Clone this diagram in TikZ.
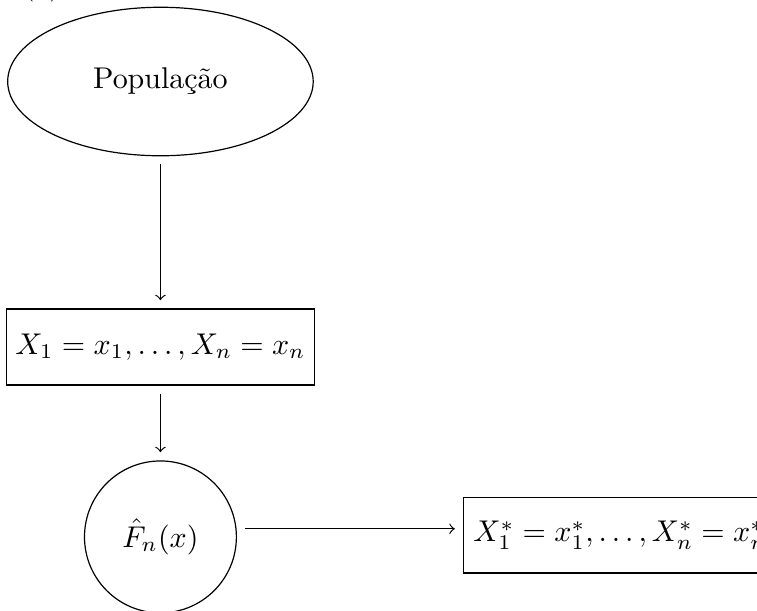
\documentclass[tikz,border=0pt]{standalone}
\usepackage{amsmath, amssymb}
\usepackage{tikz}
\usetikzlibrary{positioning,shapes.geometric}
\tikzset{
  flowarrow/.style={->, shorten <=2.7pt, shorten >=2.7pt},
  popnode/.style={draw, ellipse, minimum width=3.58cm, minimum height=1.74cm, align=center},
  samplebox/.style={draw, minimum width=3.57cm, minimum height=0.89cm, inner sep=3pt, align=center},
  ecdfnode/.style={draw, circle, minimum size=1.78cm},
  bootbox/.style={draw, minimum height=0.88cm, inner sep=3.3pt, align=center}
}

\begin{document}
\begin{tikzpicture}
  \useasboundingbox (0,0) rectangle (8.87,-7.15);
  \node[anchor=base west, inner sep=0pt] (lbl) at (0.26,0.065) {(a)};
  \node[popnode] (pop) at (1.88,-0.955) {População};
  \node[samplebox] (amostra) at (1.88,-4.065) {$X_1 = x_1, \ldots, X_n = x_n$};
  \node[ecdfnode] (fn) at (1.88,-6.291) {$\hat{F}_n(x)$};
  \node[bootbox, anchor=west] (boot) at (5.424,-6.273) {$X_1^* = x_1^*, \ldots, X_n^* = x_n^*$};
  \draw[flowarrow] (pop) -- (amostra);
  \draw[flowarrow] (amostra) -- (fn);
  \draw[flowarrow] ([yshift=2.7pt]fn.east) -- ([yshift=2.7pt]fn.east -| boot.west);
\end{tikzpicture}
\end{document}
